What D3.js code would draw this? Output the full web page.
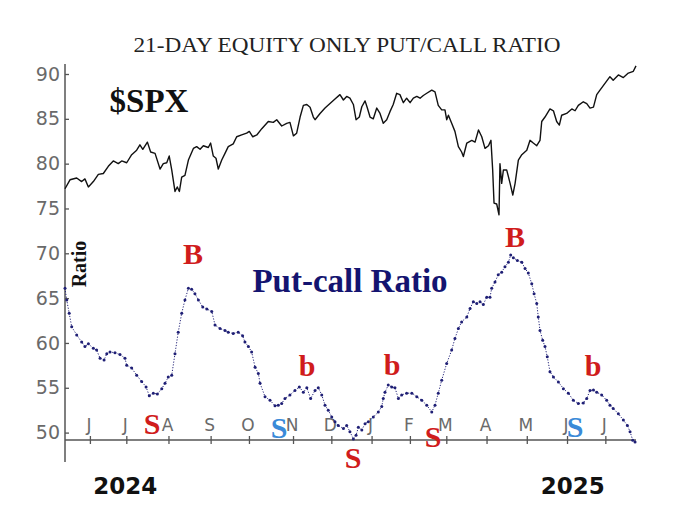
<!DOCTYPE html>
<html>
<head>
<meta charset="utf-8">
<script src="https://cdn.jsdelivr.net/npm/d3@7"></script>
<style>
  html, body { margin: 0; padding: 0; background: #fff; }
  svg { display: block; }
</style>
</head>
<body>
<div id="chart"></div>
<script>
// trading-day index (0 = mid May 2024) and value
const spx = [
  [0, 77.2], [2.6, 78.2], [6.1, 78.4], [8.7, 78.0], [10.4, 78.3], [12.2, 77.4],
  [14.8, 78.0], [17.4, 78.8], [20, 78.9], [22.6, 79.7], [25.2, 80.3], [27.8, 80.0],
  [29.6, 80.3], [32.2, 80.1], [34.8, 81.0], [37.4, 81.5], [39.1, 82.1], [40.6, 81.6],
  [43, 82.4], [44.7, 81.3], [47, 81.15], [49.6, 79.4], [51.3, 80.0], [53.1, 80.1],
  [54.4, 80.85], [55.7, 79.3], [57.4, 76.9], [58.6, 77.4], [59.7, 76.9], [60.9, 78.5],
  [62.6, 78.7], [64.4, 80.4], [67, 81.7], [68.7, 81.9], [70.5, 81.6], [72.2, 82.0],
  [74.8, 81.8], [76, 82.3], [77.4, 80.85], [78.8, 80.6], [80, 79.4], [81.8, 80.4],
  [83.5, 81.15], [85.2, 81.9], [87.8, 82.2], [89.6, 83.0], [92.2, 83.2], [94.8, 83.4],
  [96.2, 83.6], [98, 83.0], [100.1, 83.2], [102.7, 83.9], [106.1, 84.7], [108.7, 84.6],
  [110.5, 84.9], [113.1, 84.2], [115.7, 84.5], [117.4, 84.6], [119.2, 83.1], [120.9, 83.4],
  [122.7, 85.2], [124.4, 86.5], [126.2, 86.6], [127.9, 86.3], [129.6, 85.2], [130.5, 84.9],
  [133.1, 85.6], [135.7, 86.2], [138.3, 86.7], [140.9, 87.2], [143.5, 87.7], [145.3, 87.1],
  [147, 87.5], [148.7, 87.3], [150.5, 86.6], [151.9, 84.9], [153.6, 85.2], [154.9, 86.35],
  [156.6, 87.0], [157.8, 86.2], [159.2, 85.2], [160.9, 85.0], [162.7, 86.2], [164.4, 85.6],
  [166.1, 84.5], [167.9, 84.9], [169.6, 85.8], [171.3, 86.6], [173.1, 87.85], [174.8, 87.7],
  [176.6, 86.8], [178.3, 87.3], [180.1, 86.8], [181.8, 87.3], [183.6, 87.5], [185.3, 87.3],
  [187, 87.6], [188.8, 87.85], [191.4, 88.2], [193.1, 88.0], [194.8, 86.5], [196.6, 86.0],
  [198.3, 86.0], [199.2, 84.9], [200.1, 85.4], [201.8, 84.5], [203.5, 83.6], [205.3, 81.9],
  [207, 81.3], [207.9, 80.8], [209.7, 82.3], [212.3, 82.6], [214, 82.4], [215.8, 83.75],
  [217.5, 83.0], [219.2, 81.7], [221, 82.0], [222.3, 82.6], [223.2, 79.3], [223.9, 75.6],
  [225.3, 75.5], [226.5, 74.3], [227, 80.0], [227.9, 77.8], [228.8, 79.3], [230.5, 79.3],
  [232.3, 77.8], [233.7, 76.5], [234.9, 77.8], [236.6, 80.4], [238.4, 81.0], [241, 81.5],
  [242.7, 82.6], [244.4, 82.3], [246.2, 82.0], [247.9, 82.6], [248.8, 84.7], [250.5, 85.2],
  [253.1, 86.1], [254.9, 85.9], [256.6, 84.7], [258, 84.3], [259.2, 85.4], [261.8, 85.6],
  [264.5, 86.1], [266.2, 85.9], [267.9, 86.5], [270.5, 86.9], [272.3, 86.7], [274, 86.2],
  [275.8, 86.3], [277.5, 87.7], [279.2, 88.2], [281.8, 88.95], [284.4, 89.7], [286.1, 89.3],
  [288.8, 89.9], [291.4, 89.6], [294, 90.1], [296.6, 90.3], [298, 90.9]
];

const putCall = [
  [0, 66.1], [0.9, 64.8], [2.2, 63.3], [3.5, 61.8], [6.1, 60.9], [8.7, 60.1],
  [10.4, 59.6], [12.2, 59.9], [14.8, 59.4], [16.5, 59.2], [18.3, 58.3], [20.4, 58.1],
  [21.8, 58.8], [23.5, 59.0], [26.1, 58.9], [28.7, 58.7], [31.3, 58.3], [32.2, 57.5],
  [34.8, 57.2], [37.4, 56.4], [40, 55.7], [42.3, 55.1], [44, 54.1], [46.1, 54.4],
  [48.2, 54.3], [50.5, 54.9], [52.2, 55.5], [53.9, 56.2], [55.7, 56.4], [57.4, 58.8],
  [59.1, 61.2], [60.9, 63.3], [62.6, 64.8], [64.4, 66.1], [66.1, 66.0], [67.8, 65.5],
  [69.6, 64.8], [71.9, 64.0], [74, 63.8], [76.6, 63.5], [78.3, 62.0], [80.9, 61.6],
  [83.5, 61.4], [85.2, 61.2], [87.8, 61.05], [90.4, 61.2], [92.7, 60.8], [93.9, 60.1],
  [95.7, 59.6], [97.4, 59.0], [99.2, 57.3], [100.9, 56.6], [101.8, 55.5], [104.4, 54.0],
  [107, 53.6], [109.6, 53.0], [111.3, 53.06], [113.1, 53.25], [114.8, 53.8], [117.4, 54.2],
  [120, 54.7], [122.3, 55.1], [124.4, 54.5], [126.2, 55.0], [128.2, 53.8], [130.5, 54.7],
  [132.2, 55.0], [134, 54.2], [135.7, 53.06], [137.4, 52.5], [139.2, 51.75], [140.9, 51.2],
  [142.6, 50.8], [145.3, 50.45], [147, 50.8], [148.7, 50.1], [150.5, 49.3], [151.9, 49.7],
  [153.1, 50.6], [154.9, 50.3], [156.6, 51.0], [158.3, 51.2], [160.9, 51.75], [163.5, 52.3],
  [165.3, 52.9], [166.1, 53.8], [167, 54.5], [168.7, 55.3], [170.5, 55.1], [172.2, 55.0],
  [174, 53.8], [175.7, 54.2], [178.3, 54.4], [181, 54.4], [183.6, 54.0], [186.2, 53.6],
  [188.8, 53.06], [191.4, 52.3], [193.1, 53.06], [194.8, 54.4], [196.6, 55.85], [199.2, 57.7],
  [201.8, 59.2], [203.5, 60.5], [205.3, 61.6], [207, 62.35], [209.7, 62.9], [211.4, 63.85],
  [213.1, 64.6], [214.9, 64.4], [216.6, 64.6], [218.3, 64.3], [220.1, 65.1], [221.8, 65.1],
  [222.7, 66.1], [224.4, 66.8], [226.1, 67.6], [227.9, 67.9], [229.6, 68.5], [231.4, 69.0],
  [232.6, 69.8], [234, 69.5], [236.1, 69.2], [238.4, 69.0], [240.1, 68.3], [241.8, 67.8],
  [243.6, 66.6], [244.8, 65.5], [246.2, 64.4], [247, 62.9], [247.9, 61.4], [249.3, 60.3],
  [250.5, 59.6], [251.7, 58.45], [253.1, 56.8], [254.9, 56.2], [257.5, 55.65], [260.1, 54.9],
  [262.7, 54.4], [265.3, 53.6], [267.9, 53.25], [270.5, 53.3], [272.3, 53.8], [274, 54.7],
  [275.8, 54.75], [277.5, 54.5], [280.1, 54.2], [282.7, 53.6], [284.4, 53.06], [286.1, 52.7],
  [288.8, 52.1], [291.4, 51.4], [293.5, 50.8], [294.9, 50.1], [296.3, 49.15], [297.5, 48.95]
];

const yTicks = [50, 55, 60, 65, 70, 75, 80, 85, 90];
const monthTicks = [13, 32, 54, 76, 96, 119, 139, 160, 180, 199, 220, 241, 262, 282];
const monthLabels = ["J", "J", "A", "S", "O", "N", "D", "J", "F", "M", "A", "M", "J", "J"];
const years = [["2024", 31.5], ["2025", 265]];

// buy / sell marks: letter, day, value, colour key
const signals = [
  ["B", 66.8, 69.9, "red"], ["B", 234.9, 71.8, "red"],
  ["b", 126.3, 57.5, "red"], ["b", 170.7, 57.6, "red"], ["b", 275.6, 57.4, "red"],
  ["S", 45.4, 51.0, "red"], ["S", 111.7, 50.5, "blue"], ["S", 150.3, 47.2, "red"],
  ["S", 192.1, 49.5, "red"], ["S", 266.2, 50.6, "blue"]
];

const W = 700, H = 526;
const colors = { red: "#d01c1c", blue: "#3a8ad8" };

const svg = d3.select("#chart").append("svg")
  .attr("width", W)
  .attr("height", H);

const x = d3.scaleLinear().domain([0, 298]).range([65, 636]);
const y = d3.scaleLinear().domain([50, 90]).range([432.6, 74]);
const axisY = 440;

// Title
svg.append("text")
  .attr("x", 347).attr("y", 52)
  .attr("text-anchor", "middle")
  .attr("font-family", "Liberation Serif, serif")
  .attr("font-size", "22px")
  .attr("fill", "#222")
  .attr("textLength", 427)
  .attr("lengthAdjust", "spacingAndGlyphs")
  .text("21-DAY EQUITY ONLY PUT/CALL RATIO");

// Y axis
const yAxis = svg.append("g")
  .attr("transform", `translate(${x(0)},0)`)
  .call(d3.axisLeft(y).tickValues(yTicks).tickSize(-4).tickPadding(5))
  .call((g) => g.select(".domain").remove());
yAxis.selectAll("line").attr("stroke", "#555").attr("stroke-width", 1.3);
yAxis.selectAll("text")
  .attr("fill", "#6a6a6a")
  .attr("font-family", "DejaVu Sans, sans-serif")
  .attr("font-size", "19px");

svg.append("line")
  .attr("x1", x(0)).attr("x2", x(0))
  .attr("y1", 64).attr("y2", 462)
  .attr("stroke", "#555").attr("stroke-width", 1.5);

// X axis
const xAxis = svg.append("g")
  .attr("transform", `translate(0,${axisY - 4})`)
  .call(d3.axisBottom(x).tickValues(monthTicks).tickSize(8).tickFormat(""))
  .call((g) => g.select(".domain").remove());
xAxis.selectAll("line").attr("stroke", "#555").attr("stroke-width", 1.3);

svg.append("line")
  .attr("x1", x(0)).attr("x2", x(298))
  .attr("y1", axisY).attr("y2", axisY)
  .attr("stroke", "#555").attr("stroke-width", 1.5);

svg.selectAll(".month")
  .data(monthTicks)
  .join("text")
  .attr("class", "month")
  .attr("x", (d) => x(d) - 1)
  .attr("y", 431)
  .attr("text-anchor", "middle")
  .attr("fill", "#6a6a6a")
  .attr("font-family", "DejaVu Sans, sans-serif")
  .attr("font-size", "17px")
  .text((d, i) => monthLabels[i]);

svg.selectAll(".year")
  .data(years)
  .join("text")
  .attr("class", "year")
  .attr("x", (d) => x(d[1]))
  .attr("y", 494)
  .attr("text-anchor", "middle")
  .attr("fill", "#111")
  .attr("font-family", "DejaVu Sans, sans-serif")
  .attr("font-weight", "bold")
  .attr("font-size", "23px")
  .text((d) => d[0]);

// SPX line
const line = d3.line().x((d) => x(d[0])).y((d) => y(d[1]));

svg.append("path")
  .datum(spx)
  .attr("fill", "none")
  .attr("stroke", "#111")
  .attr("stroke-width", 1.4)
  .attr("stroke-linejoin", "round")
  .attr("d", line);

// Put-call ratio, dotted
svg.append("path")
  .datum(putCall)
  .attr("fill", "none")
  .attr("stroke", "#25257a")
  .attr("stroke-width", 1)
  .attr("stroke-dasharray", "1.2,1.6")
  .attr("d", line);

svg.selectAll(".pc")
  .data(putCall)
  .join("circle")
  .attr("class", "pc")
  .attr("cx", (d) => x(d[0]))
  .attr("cy", (d) => y(d[1]))
  .attr("r", 1.5)
  .attr("fill", "#1f1f75");

// Labels
svg.append("text")
  .attr("x", 149).attr("y", 112)
  .attr("text-anchor", "middle")
  .attr("font-family", "Liberation Serif, serif")
  .attr("font-weight", "bold")
  .attr("font-size", "33px")
  .attr("fill", "#111")
  .text("$SPX");

svg.append("text")
  .attr("x", 350).attr("y", 292)
  .attr("text-anchor", "middle")
  .attr("font-family", "Liberation Serif, serif")
  .attr("font-weight", "bold")
  .attr("font-size", "33px")
  .attr("fill", "#141470")
  .text("Put-call Ratio");

svg.append("text")
  .attr("transform", "translate(86,264) rotate(-90)")
  .attr("text-anchor", "middle")
  .attr("font-family", "Liberation Serif, serif")
  .attr("font-weight", "bold")
  .attr("font-size", "20px")
  .attr("fill", "#111")
  .text("Ratio");

// Signals
svg.selectAll(".signal")
  .data(signals)
  .join("text")
  .attr("class", "signal")
  .attr("x", (d) => x(d[1]))
  .attr("y", (d) => y(d[2]))
  .attr("dy", "0.34em")
  .attr("text-anchor", "middle")
  .attr("font-family", "Liberation Serif, serif")
  .attr("font-weight", "bold")
  .attr("font-size", "30px")
  .attr("fill", (d) => colors[d[3]])
  .text((d) => d[0]);
</script>
</body>
</html>
